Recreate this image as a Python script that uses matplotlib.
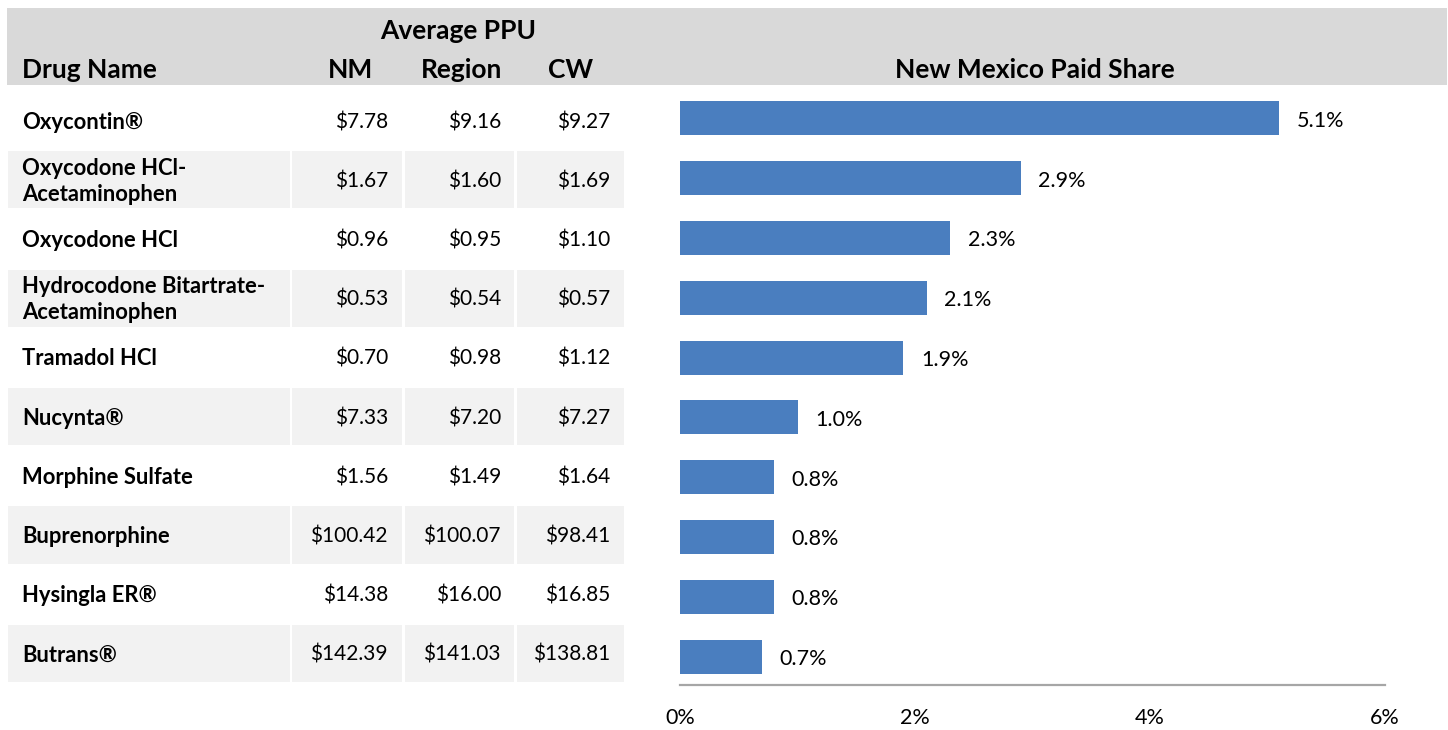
import matplotlib
matplotlib.use("Agg")
import matplotlib.pyplot as plt
from matplotlib.patches import Rectangle

plt.rcParams['font.family'] = ['Lato', 'DejaVu Sans']

drugs = ["Oxycontin®", "Oxycodone HCl-\nAcetaminophen", "Oxycodone HCl",
         "Hydrocodone Bitartrate-\nAcetaminophen", "Tramadol HCl", "Nucynta®",
         "Morphine Sulfate", "Buprenorphine", "Hysingla ER®", "Butrans®"]
ppu_nm = ["$7.78", "$1.67", "$0.96", "$0.53", "$0.70", "$7.33", "$1.56", "$100.42", "$14.38", "$142.39"]
ppu_region = ["$9.16", "$1.60", "$0.95", "$0.54", "$0.98", "$7.20", "$1.49", "$100.07", "$16.00", "$141.03"]
ppu_cw = ["$9.27", "$1.69", "$1.10", "$0.57", "$1.12", "$7.27", "$1.64", "$98.41", "$16.85", "$138.81"]
paid_share = [5.1, 2.9, 2.3, 2.1, 1.9, 1.0, 0.8, 0.8, 0.8, 0.7]
x_ticks = [0, 2, 4, 6]

W, H = 1448, 730
fig = plt.figure(figsize=(W / 100, H / 100), dpi=100)

# background axes in pixel coordinates
bg = fig.add_axes([0, 0, 1, 1])
bg.set_xlim(0, W)
bg.set_ylim(H, 0)
bg.axis('off')

HEADER_GRAY = '#d9d9d9'
ROW_GRAY = '#f2f2f2'
TXT = '#000000'

bg.add_patch(Rectangle((7, 8), 1440, 77, facecolor=HEADER_GRAY, edgecolor='none'))

fs_head = 19
fs_body = 15
fs_name = 15.8
bg.text(458, 31, "Average PPU", ha='center', va='center', fontsize=fs_head, fontweight='bold', color=TXT)
bg.text(22, 70, "Drug Name", ha='left', va='center', fontsize=fs_head, fontweight='bold', color=TXT)
bg.text(350, 70, "NM", ha='center', va='center', fontsize=fs_head, fontweight='bold', color=TXT)
bg.text(462, 70, "Region", ha='center', va='center', fontsize=fs_head, fontweight='bold', color=TXT)
bg.text(571, 70, "CW", ha='center', va='center', fontsize=fs_head, fontweight='bold', color=TXT)
bg.text(1035, 70, "New Mexico Paid Share", ha='center', va='center', fontsize=fs_head, fontweight='bold', color=TXT)

top = 92
rh = 59.2
cols = [(8, 290), (292, 402), (405, 514), (517, 624)]
for i, name in enumerate(drugs):
    y0 = top + i * rh
    if i % 2 == 1:
        for (a, b) in cols:
            bg.add_patch(Rectangle((a, y0), b - a, rh - 2, facecolor=ROW_GRAY, edgecolor='none'))
    yc = y0 + (rh - 2) / 2 + 1.5
    bg.text(22, yc, name, ha='left', va='center', fontsize=fs_name, fontweight='bold',
            color=TXT, linespacing=1.27)
    bg.text(388, yc, ppu_nm[i], ha='right', va='center', fontsize=fs_body, color=TXT)
    bg.text(501, yc, ppu_region[i], ha='right', va='center', fontsize=fs_body, color=TXT)
    bg.text(610, yc, ppu_cw[i], ha='right', va='center', fontsize=fs_body, color=TXT)

# bar chart axes
x0p, x1p = 680, 1385
y_top, y_bot = 88.5, 685.3
ax = fig.add_axes([x0p / W, 1 - y_bot / H, (x1p - x0p) / W, (y_bot - y_top) / H])
ax.patch.set_alpha(0)
pos = list(range(len(paid_share)))
ax.barh(pos, paid_share, height=0.57, color='#4a7ebf', edgecolor='none')
ax.set_ylim(len(pos) - 0.52, -0.5)
ax.set_xlim(0, 6)
for p, v in zip(pos, paid_share):
    ax.text(v + 0.15, p + 0.04, f"{v:.1f}%", ha='left', va='center', fontsize=15.5, color=TXT)
for s in ['top', 'right', 'left']:
    ax.spines[s].set_visible(False)
ax.spines['bottom'].set_color('#a6a6a6')
ax.spines['bottom'].set_linewidth(1.6)
ax.set_yticks([])
ax.set_xticks(x_ticks)
ax.set_xticklabels([f"{t}%" for t in x_ticks], fontsize=15.5, color=TXT)
ax.tick_params(axis='x', length=0, pad=16)

fig.savefig("out.png", dpi=100)
